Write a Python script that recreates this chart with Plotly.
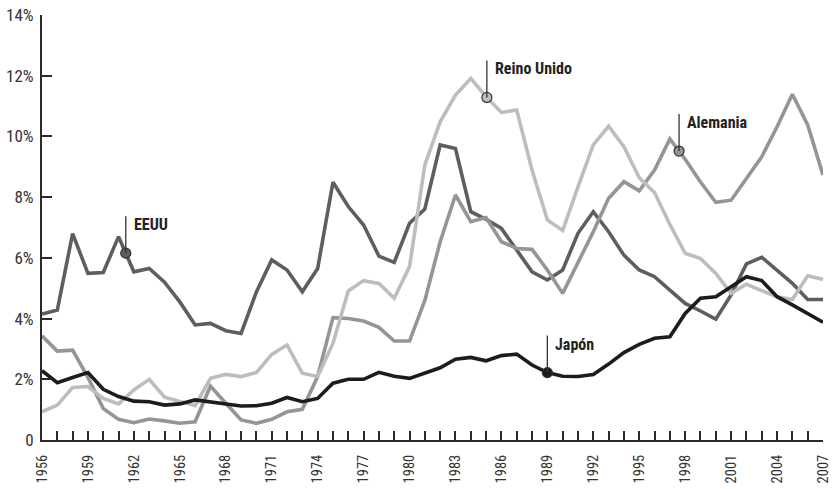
import numpy as np
import plotly.graph_objects as go

years = list(range(1956, 2008))

eeuu = [4.15, 4.28, 6.8, 5.49, 5.52, 6.7, 5.54, 5.65, 5.2, 4.55, 3.79, 3.84, 3.6, 3.51, 4.88, 5.93,
        5.6, 4.88, 5.65, 8.49, 7.69, 7.08, 6.06, 5.85, 7.14, 7.61, 9.72, 9.6, 7.52, 7.27, 6.97, 6.26,
        5.54, 5.27, 5.6, 6.81, 7.52, 6.86, 6.09, 5.6, 5.38, 4.94, 4.5, 4.25, 3.98, 4.78, 5.8, 6.02,
        5.6, 5.16, 4.63, 4.63]

reino_unido = [0.93, 1.15, 1.73, 1.76, 1.37, 1.19, 1.65, 2.0, 1.41, 1.26, 1.13, 2.03, 2.16, 2.09, 2.22, 2.82,
               3.13, 2.2, 2.09, 3.18, 4.91, 5.25, 5.16, 4.67, 5.71, 9.06, 10.48, 11.36, 11.91, 11.31, 10.79, 10.87,
               8.89, 7.25, 6.9, 8.34, 9.72, 10.34, 9.66, 8.64, 8.15, 7.1, 6.15, 5.98, 5.49, 4.83, 5.13, 4.92,
               4.72, 4.63, 5.41, 5.29]

alemania = [3.43, 2.93, 2.96, 2.06, 1.04, 0.68, 0.57, 0.69, 0.63, 0.55, 0.6, 1.78, 1.21, 0.66, 0.55, 0.68,
            0.93, 1.01, 2.09, 4.03, 4.0, 3.92, 3.71, 3.26, 3.26, 4.6, 6.53, 8.07, 7.19, 7.33, 6.53, 6.31,
            6.28, 5.6, 4.83, 5.85, 6.86, 7.96, 8.51, 8.21, 8.89, 9.92, 9.25, 8.5, 7.83, 7.9, 8.62, 9.33,
            10.32, 11.39, 10.38, 8.73]

japon = [2.28, 1.89, 2.06, 2.22, 1.67, 1.43, 1.28, 1.26, 1.15, 1.19, 1.32, 1.26, 1.18, 1.12, 1.13, 1.21,
         1.4, 1.26, 1.37, 1.87, 2.0, 2.0, 2.23, 2.1, 2.03, 2.22, 2.38, 2.66, 2.72, 2.61, 2.78, 2.83,
         2.47, 2.22, 2.1, 2.09, 2.16, 2.5, 2.88, 3.15, 3.35, 3.4, 4.17, 4.67, 4.72, 5.05, 5.38, 5.25,
         4.72, 4.45, 4.17, 3.88]

y_ticks = [0, 2, 4, 6, 8, 10, 12, 14]
y_tick_labels = ["0", "2%", "4%", "6%", "8%", "10%", "12%", "14%"]
x_ticks = list(range(1956, 2008, 3))

# series: name, values, line colour, label year (marker position)
series = [
    ("EEUU", eeuu, "#5e5e5e", 1961.47),
    ("Alemania", alemania, "#959595", 1997.6),
    ("Reino Unido", reino_unido, "#bdbdbd", 1985.05),
    ("Japón", japon, "#1c1c1c", 1989.0),
]

FONT = "Roboto Condensed, Liberation Sans Narrow, DejaVu Sans Condensed, sans-serif"
AXIS = "#2a2a2a"

fig = go.Figure()
for name, vals, col, _ in series:
    fig.add_trace(go.Scatter(x=years, y=vals, mode="lines", name=name,
                             line=dict(color=col, width=3.6), hoverinfo="skip"))

for name, vals, col, lx in series:
    ly = float(np.interp(lx, years, vals))
    fig.add_shape(type="line", xref="x", yref="y", x0=lx, x1=lx,
                  ysizemode="pixel", yanchor=ly, y0=0, y1=37,
                  line=dict(color="#333333", width=1.3))
    fig.add_trace(go.Scatter(x=[lx], y=[ly], mode="markers",
                             marker=dict(size=10, color=col, line=dict(color="#333333", width=1.2)),
                             hoverinfo="skip", showlegend=False, cliponaxis=False))
    fig.add_annotation(x=lx, y=ly, xref="x", yref="y", text=name, showarrow=False,
                       xanchor="left", yanchor="top", xshift=6, yshift=40,
                       font=dict(family=FONT, size=16, color="#222222", weight="bold"))

fig.update_layout(
    width=832, height=489,
    margin=dict(l=42, r=9, t=15, b=49, autoexpand=False),
    paper_bgcolor="white", plot_bgcolor="white",
    showlegend=False,
    font=dict(family=FONT, size=17, color="#333333"),
)
fig.update_xaxes(
    range=[1956, 2007], tickvals=x_ticks, ticktext=[str(v) for v in x_ticks],
    tickangle=-90, ticks="inside", ticklen=9, tickwidth=2, tickcolor=AXIS,
    minor=dict(dtick=1, tick0=1956, ticks="inside", ticklen=9, tickwidth=2, tickcolor=AXIS),
    showline=True, linecolor=AXIS, linewidth=2, showgrid=False, zeroline=False,
    ticklabelstandoff=7, automargin=False,
    tickfont=dict(family=FONT, size=14.5, color="#333333"),
)
fig.update_yaxes(
    range=[0, 14], tickvals=y_ticks, ticktext=y_tick_labels,
    ticks="inside", ticklen=10, tickwidth=2, tickcolor=AXIS,
    showline=True, linecolor=AXIS, linewidth=2, showgrid=False, zeroline=False,
    ticklabelstandoff=3, automargin=False,
    tickfont=dict(family=FONT, size=17, color="#333333"),
)

# remove the default page margin so the 832x489 figure fills the window exactly
fig.write_html("out.html", config={"displayModeBar": False, "staticPlot": True},
               post_script="document.body.style.margin='0';document.body.style.overflow='hidden';")
